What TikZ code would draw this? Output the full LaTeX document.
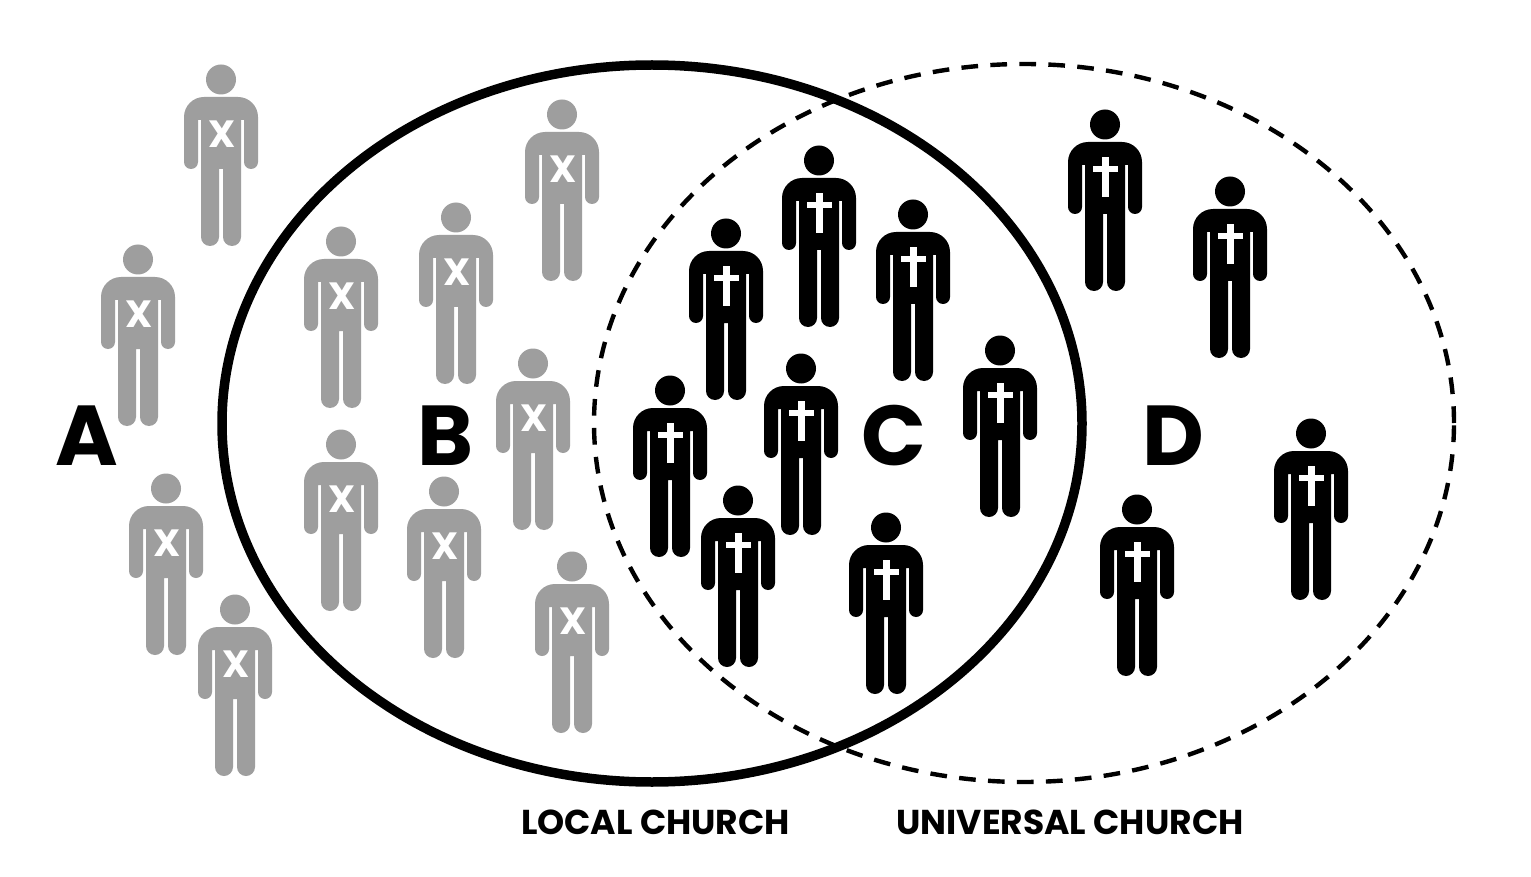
\documentclass[tikz,border=0pt]{standalone}
\usepackage{fontspec}
\usetikzlibrary{shapes.geometric}
\setmainfont{Poppins}[BoldFont={Poppins Bold}]
\definecolor{persongray}{HTML}{9E9E9E}
\tikzset{
  figure/.pic={
    \fill[pic actions] (0,0.5) circle[radius=15pt];
    \fill[pic actions] (-37,38) arc[start angle=180,end angle=90,radius=20pt] -- (17,18)
      arc[start angle=90,end angle=0,radius=20pt] -- (37,83)
      arc[start angle=0,end angle=-180,radius=7pt] -- (23,41) -- (20,41) -- (20,158)
      arc[start angle=0,end angle=-180,radius=9pt] -- (2,90) -- (-2,90) -- (-2,158)
      arc[start angle=0,end angle=-180,radius=9pt] -- (-20,41) -- (-23,41) -- (-23,83)
      arc[start angle=0,end angle=-180,radius=7pt] -- cycle;
  },
  crossmark/.pic={
    \fill[white] (-3.5,33) rectangle (3.5,73);
    \fill[white] (-12.5,42) rectangle (12.5,48);
  },
  xmark/.style={text=white,inner sep=0pt,font=\fontsize{38}{38}\selectfont\bfseries},
  bigletter/.style={inner sep=0pt,font=\fontsize{85}{85}\selectfont\bfseries},
  caption/.style={inner sep=0pt,font=\fontsize{34.5}{34.5}\selectfont\bfseries},
  localring/.style={draw=black,line width=9.5pt},
  universalring/.style={draw=black,line width=4.4pt,dash pattern=on 16.7pt off 12.3pt},
}
\begin{document}
\begin{tikzpicture}[x=1pt,y=-1pt]
\useasboundingbox (0,0) rectangle (1531,877);
\fill[white] (0,0) rectangle (1531,877);
\node[universalring,ellipse,minimum width=860pt,minimum height=718pt,inner sep=0pt] (universal) at (1024,423) {};
\node[localring,ellipse,minimum width=860pt,minimum height=717pt,inner sep=0pt] (local) at (652,423.5) {};
\foreach \n/\hx/\hy in {g1/221/79,g2/138/259,g3/341/241,g4/456/217,g5/562/114,g6/533/363,g7/341/444,g8/444/491,g9/166/488,g10/235/609,g11/572/566}{
  \pic[fill=persongray] (\n) at (\hx,\hy) {figure};
  \node[xmark] (\n x) at (\hx+1,\hy+55.5) {X};
}
\foreach \n/\hx/\hy in {b1/819/160,b2/726/233,b3/913/214,b4/1000/350,b5/801/368,b6/670/390,b7/738/500,b8/886/527,b9/1105/124,b10/1230/191,b11/1311/433,b12/1137/509}{
  \pic[fill=black] (\n) at (\hx,\hy) {figure};
  \pic (\n c) at (\hx,\hy) {crossmark};
}
\node[bigletter] (la) at (87,436) {A};
\node[bigletter] (lb) at (445.5,436) {B};
\node[bigletter] (lc) at (894,436) {C};
\node[bigletter] (ld) at (1173.5,436) {D};
\node[caption] (cl) at (655.5,822) {LOCAL CHURCH};
\node[caption] (cu) at (1070,822) {UNIVERSAL CHURCH};
\end{tikzpicture}
\end{document}
